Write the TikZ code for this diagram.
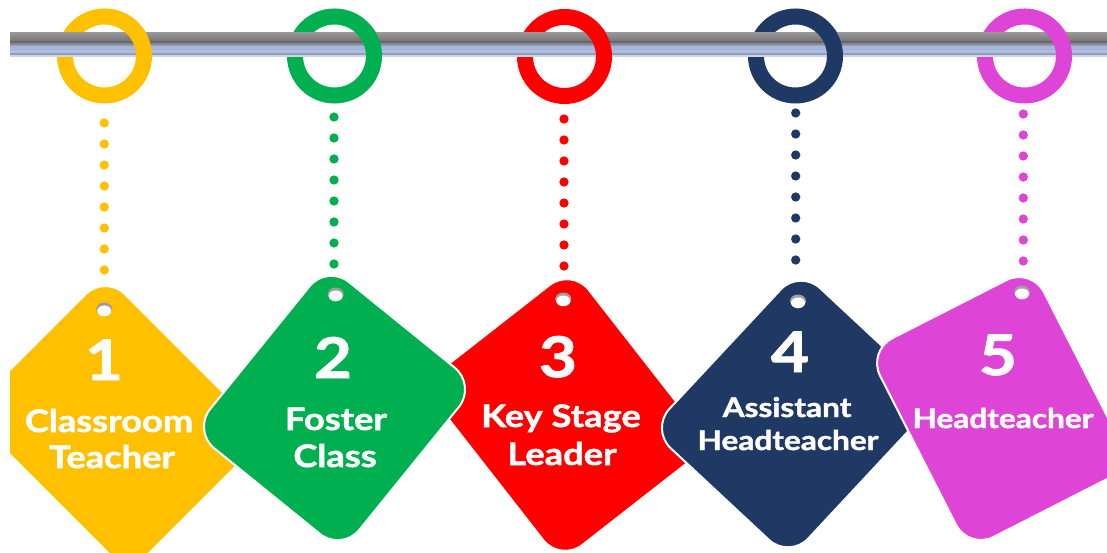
\documentclass[tikz,border=0pt]{standalone}
\usepackage{fontspec}
\newfontfamily\tagfont{Lato}[BoldFeatures={FakeStretch=1.17, FakeBold=1.6}]
\definecolor{cyel}{HTML}{FFC000}
\definecolor{cgrn}{HTML}{00B050}
\definecolor{cred}{HTML}{FF0000}
\definecolor{cnav}{HTML}{203864}
\definecolor{cmag}{HTML}{DE44D6}
\definecolor{rodA}{RGB}{150,150,152}
\definecolor{rodB}{RGB}{112,112,116}
\definecolor{rodC}{RGB}{166,182,216}
\definecolor{rodD}{RGB}{128,136,156}
\definecolor{rodE}{RGB}{205,213,232}
\tikzset{
  ringline/.style={line width=16pt},
  tagshape/.style={draw=white, line width=2pt, rounded corners=28pt},
  dotline/.style={line width=9.3pt, line cap=round, dash pattern=on 0pt off 21pt},
  numtxt/.style={text=white, font=\tagfont\bfseries\fontsize{56}{56}\selectfont, anchor=base, inner sep=0pt},
  lbltxt/.style={text=white, font=\tagfont\bfseries\fontsize{31}{31}\selectfont, anchor=base, inner sep=0pt},
  lblsmall/.style={text=white, font=\tagfont\bfseries\fontsize{27}{27}\selectfont, anchor=base, inner sep=0pt},
}
\newcommand{\tagbody}[6]{% cx cy rot w h color
  \begin{scope}[shift={(#1,#2)}, rotate=#3]
    \filldraw[tagshape, fill=#6] (-#4/2,-#5/2) rectangle (#4/2,#5/2);
  \end{scope}}
\newcommand{\taghole}[2]{%
  \fill[gray!75] (#1,#2-1) ellipse [x radius=8pt, y radius=6.5pt];
  \fill[white] (#1,#2+0.9) ellipse [x radius=7pt, y radius=5.4pt];}
\newcommand{\ringover}[3]{%
  \begin{scope}
    \clip (#1+20,30) rectangle (#1+50,60);
    \draw[ringline, #3] (#1,#2) circle (39.5pt);
  \end{scope}}
\begin{document}
\begin{tikzpicture}[x=1pt,y=-1pt]
\useasboundingbox (0,0) rectangle (1107,553);
\fill[white] (0,0) rectangle (1107,553);
% rings
\draw[ringline, cyel] (104.5,56) circle (39.5pt);
\draw[ringline, cgrn] (334.5,56) circle (39.5pt);
\draw[ringline, cred] (564.5,56.5) circle (39.5pt);
\draw[ringline, cnav] (795.5,56) circle (39.5pt);
\draw[ringline, cmag] (1024.5,56) circle (39.5pt);
% rod
\shade[top color=rodA, bottom color=rodB] (10,33) rectangle (1107,42.5);
\shade[top color=rodB, bottom color=rodC] (10,42) rectangle (1107,46.5);
\fill[rodC] (10,46) rectangle (1107,52.5);
\shade[top color=rodC, bottom color=rodD] (10,52) rectangle (1107,55);
\fill[rodE] (10,55) rectangle (1107,57);
\ringover{104.5}{56}{cyel}
\ringover{334.5}{56}{cgrn}
\ringover{564.5}{56.5}{cred}
\ringover{795.5}{56}{cnav}
\ringover{1024.5}{56}{cmag}
% dotted hangers
\coordinate (d1a) at (104.3,123); \coordinate (d1b) at (104.3,270.5);
\coordinate (d2a) at (334,117);   \coordinate (d2b) at (334,264.5);
\coordinate (d3a) at (564,119);   \coordinate (d3b) at (564,266.5);
\coordinate (d4a) at (795.7,113); \coordinate (d4b) at (795.7,260.5);
\coordinate (d5a) at (1023.3,114); \coordinate (d5b) at (1023.3,261.5);
\draw[dotline, cyel] (d1a) -- (d1b);
\draw[dotline, cgrn] (d2a) -- (d2b);
\draw[dotline, cred] (d3a) -- (d3b);
\draw[dotline, cnav] (d4a) -- (d4b);
\draw[dotline, cmag] (d5a) -- (d5b);
% tags
\begin{scope}
\clip (10,0) rectangle (1107,553);
% 1 yellow
\tagbody{117}{424}{45}{195}{228}{cyel}
\taghole{104.3}{310}
\node[numtxt] (n1) at (104,380) {1};
\node[lbltxt] (a1) at (109,432) {Classroom};
\node[lbltxt] (b1) at (112,468) {Teacher};
% 3 red
\tagbody{566}{415}{38}{190}{225}{cred}
\taghole{563.3}{300}
\node[numtxt] (n3) at (558,377) {3};
\node[lbltxt] (a3) at (561,427) {Key Stage};
\node[lbltxt] (b3) at (562,465) {Leader};
% 2 green
\tagbody{334.5}{408}{51}{214}{192}{cgrn}
\taghole{335.7}{295}
\node[numtxt] (n2) at (333,378) {2};
\node[lbltxt] (a2) at (336,430) {Foster};
\node[lbltxt] (b2) at (335,467) {Class};
% 4 navy
\tagbody{794.5}{414}{47}{219}{190}{cnav}
\taghole{798}{302}
\node[numtxt] (n4) at (790,372) {4};
\node[lblsmall] (a4) at (787,417) {Assistant};
\node[lblsmall] (b4) at (788,450) {Headteacher};
% 5 magenta
\tagbody{1000}{408.5}{27}{184}{223}{cmag}
\taghole{1022}{293}
\node[numtxt] (n5) at (998,375) {5};
\node[lblsmall] (a5) at (1003,428) {Headteacher};
\end{scope}
\end{tikzpicture}
\end{document}
